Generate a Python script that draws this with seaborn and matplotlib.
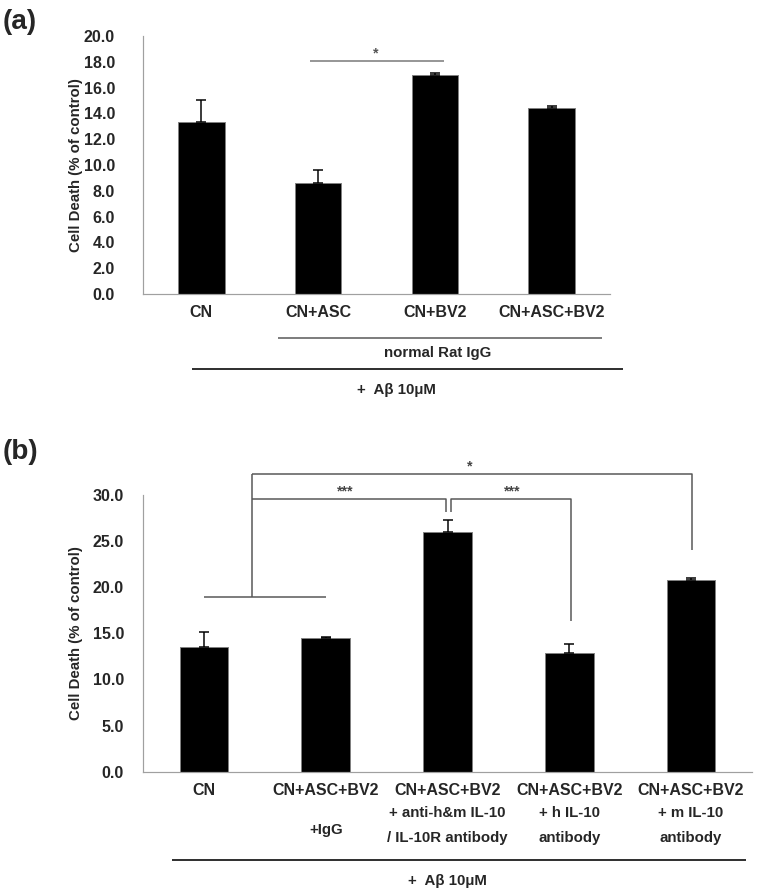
import matplotlib
matplotlib.use("Agg")
import matplotlib.pyplot as plt
import seaborn as sns
import pandas as pd
import numpy as np

# values (mean, upper error)
groups_a = ["CN", "CN+ASC", "CN+BV2", "CN+ASC+BV2"]
death_a = [13.35, 8.6, 16.95, 14.45]
err_a = [1.7, 1.05, 0.18, 0.15]

groups_b = ["CN", "CN+ASC+BV2", "CN+ASC+BV2", "CN+ASC+BV2", "CN+ASC+BV2"]
treat_b = ["", "+IgG", "+ anti-h&m IL-10\n/ IL-10R antibody", "+ h IL-10\nantibody", "+ m IL-10\nantibody"]
death_b = [13.5, 14.45, 26.0, 12.9, 20.8]
err_b = [1.6, 0.18, 1.3, 0.95, 0.2]

sns.set_style("white")
plt.rcParams["font.family"] = ["Liberation Sans", "DejaVu Sans"]
plt.rcParams["font.weight"] = "bold"

DPI = 72
fig = plt.figure(figsize=(759 / DPI, 894 / DPI), dpi=DPI)

axis_grey = "#a0a0a0"
line_grey = "#555555"


def style_axis(ax, n, ymax, step, ypad, label_x):
    ax.set_xlim(-0.5, n - 0.5)
    ax.set_ylim(0, ymax)
    ticks = np.arange(0, ymax + 0.01, step)
    ax.set_yticks(ticks)
    ax.set_yticklabels([f"{v:.1f}" for v in ticks], fontsize=16, fontweight="bold")
    ax.set_xticks(np.arange(-0.5, n), minor=True)
    ax.tick_params(axis="x", which="major", length=0, pad=11, labelsize=16)
    ax.tick_params(axis="x", which="minor", length=5, color=axis_grey, width=1, direction="out")
    ax.tick_params(axis="y", length=5, color=axis_grey, width=1, direction="out", pad=ypad)
    for s in ["top", "right"]:
        ax.spines[s].set_visible(False)
    for s in ["left", "bottom"]:
        ax.spines[s].set_color(axis_grey)
        ax.spines[s].set_linewidth(1.2)
    ax.set_xlabel("")
    ax.set_ylabel("Cell Death (% of control)", fontsize=15, fontweight="bold")
    ax.yaxis.set_label_coords(label_x, 0.5)


def draw_bars(ax, keys, vals, errs):
    df = pd.DataFrame({"group": keys, "death": vals})
    sns.barplot(data=df, x="group", y="death", color="black", width=0.4,
                edgecolor="#808080", linewidth=1, errorbar=None, saturation=1, ax=ax)
    ax.errorbar(np.arange(len(vals)), vals, yerr=[np.zeros(len(errs)), errs], fmt="none",
                ecolor="black", elinewidth=1.5, capsize=5, capthick=1.5, zorder=3)


def seg(ax, xs, ys, color=line_grey, lw=1.5):
    ax.plot(xs, ys, color=color, lw=lw, clip_on=False, solid_capstyle="butt")


# ---------------- panel (a)
ax1 = fig.add_axes([143 / 759, 1 - 294 / 894, 467 / 759, 258 / 894])
draw_bars(ax1, groups_a, death_a, err_a)
style_axis(ax1, len(groups_a), 20, 2, ypad=23, label_x=(83 - 143) / 467)
ax1.set_xticks(range(len(groups_a)))
ax1.set_xticklabels(groups_a, fontsize=16, fontweight="bold")

seg(ax1, [0.93, 2.08], [18.05, 18.05], color="#777777")
ax1.text(1.49, 18.1, "*", ha="center", va="bottom", fontsize=14, color="#555555")

seg(ax1, [0.66, 3.43], [-3.41, -3.41])
ax1.text(2.02, -4.57, "normal Rat IgG", ha="center", va="center", fontsize=15, fontweight="bold")
seg(ax1, [-0.08, 3.61], [-5.81, -5.81], color="#333333", lw=2)
ax1.text(1.67, -7.44, "+  A\u03b2 10\u03bcM", ha="center", va="center", fontsize=15, fontweight="bold")

fig.text(3 / 759, 1 - 22 / 894, "(a)", fontsize=28, fontweight="bold", va="center", ha="left")

# ---------------- panel (b)
ax2 = fig.add_axes([143 / 759, 1 - 771.7 / 894, 609 / 759, 276.7 / 894])
keys_b = [f"{g} {t}".strip() for g, t in zip(groups_b, treat_b)]
draw_bars(ax2, keys_b, death_b, err_b)
style_axis(ax2, len(groups_b), 30, 5, ypad=14, label_x=(83 - 143) / 609)
ax2.set_xticks(range(len(groups_b)))
ax2.set_xticklabels(groups_b, fontsize=16, fontweight="bold")

for i, t in enumerate(treat_b):
    if t:
        y = -5.85 if "\n" in t else -6.3
        ax2.text(i, y, t, ha="center", va="center", fontsize=15, fontweight="bold",
                 linespacing=2.0)

# significance brackets
seg(ax2, [0.0, 1.0], [18.98, 18.98])
seg(ax2, [0.395, 0.395], [18.98, 32.25])
seg(ax2, [0.395, 1.99, 1.99], [29.54, 29.54, 28.16])
seg(ax2, [2.03, 2.03, 3.01, 3.01], [28.16, 29.54, 29.54, 16.38])
seg(ax2, [0.395, 4.01, 4.01], [32.25, 32.25, 24.05])
ax2.text(1.16, 29.6, "***", ha="center", va="bottom", fontsize=14, color="#444444")
ax2.text(2.53, 29.6, "***", ha="center", va="bottom", fontsize=14, color="#444444")
ax2.text(2.18, 32.3, "*", ha="center", va="bottom", fontsize=14, color="#444444")

seg(ax2, [-0.26, 4.45], [-9.54, -9.54], color="#333333", lw=2)
ax2.text(2.0, -11.82, "+  A\u03b2 10\u03bcM", ha="center", va="center", fontsize=15, fontweight="bold")

fig.text(3 / 759, 1 - 452 / 894, "(b)", fontsize=28, fontweight="bold", va="center", ha="left")

fig.savefig("out.png", dpi=DPI, facecolor="white")
